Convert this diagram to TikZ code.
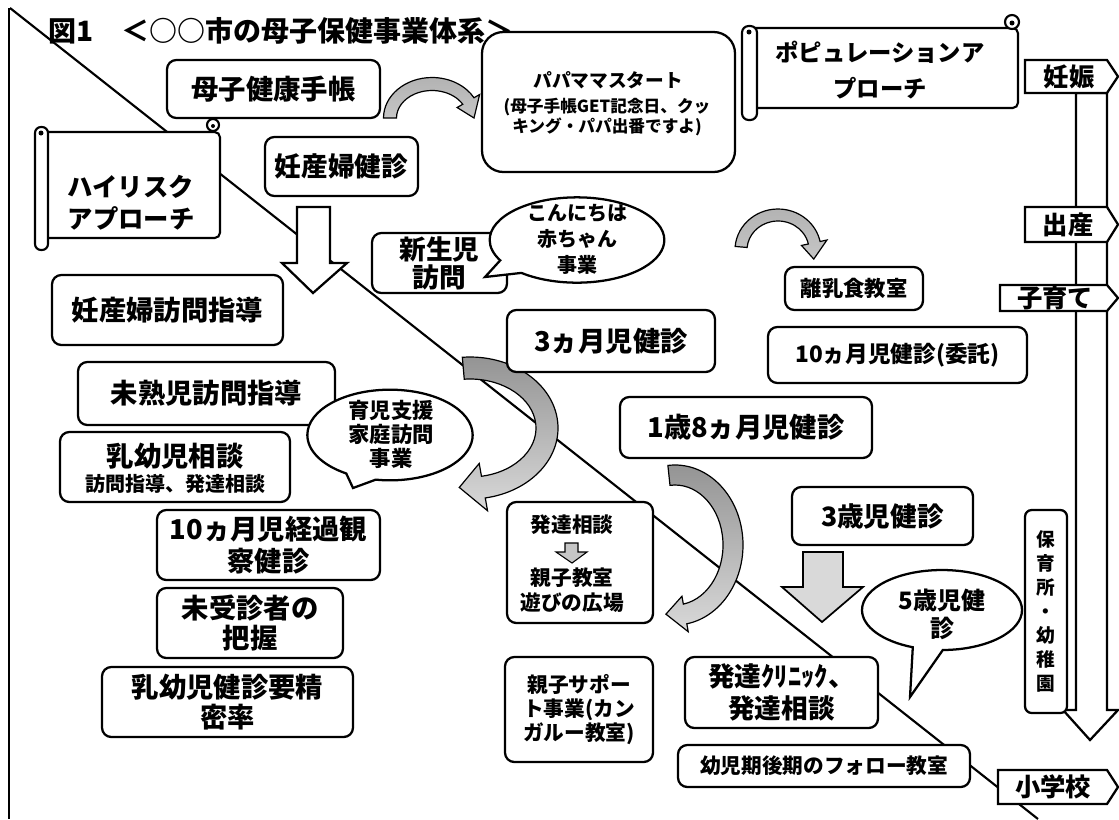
\documentclass[tikz,border=0pt]{standalone}
\usepackage{fontspec}
\setmainfont{Noto Sans CJK JP}
\usetikzlibrary{fit,shapes.callouts,calc}
\newcommand\myfs[2]{\fontsize{#1pt}{#2pt}\selectfont\bfseries}
\newcommand\bxt[4]{\node[bx, fit={#2}] (#1) {};\node[txt, font={#3}] (#1t) at (#1.center) {#4};}
\begin{document}
\begin{tikzpicture}[x=0.75pt,y=-0.75pt,
  bx/.style={draw, line width=1.7pt, rounded corners=7pt, fill=white, inner sep=0pt},
  ln/.style={line width=1.6pt},
  txt/.style={inner sep=0pt, align=center},
  callout/.style={ellipse callout, draw, line width=1.7pt, fill=white, inner sep=0pt, callout pointer arc=22},
  cur/.style={draw=black, line width=0.9pt, top color=gray!85, bottom color=gray!30},
  blk/.style={draw=black, line width=1.3pt, fill=gray!30},
  lab/.style={draw, line width=1.7pt, fill=white},
]
\useasboundingbox (0,0) rectangle (1119,819);
\fill[white] (0,0) rectangle (1119,819);

% border and diagonal
\coordinate (d1) at (10,8);
\coordinate (d2) at (1038,819);
\coordinate (b1) at (9,8);
\coordinate (b2) at (9,819);
\draw[line width=1pt] (b1) -- (b2);
\draw[ln] (d1) -- (d2);

% timeline arrow
\draw[lab] (1076,93) -- (1107,93) -- (1107,710) -- (1118,710) -- (1090,740) -- (1063,710) -- (1076,710) -- cycle;

% title
\node[txt, anchor=west, font={\myfs{21}{24}}] (title) at (48,31) {図1　＜○○市の母子保健事業体系＞};

% white down arrow
\draw[lab] (297,207) -- (330,207) -- (330,263) -- (347,263) -- (313,293) -- (282,263) -- (297,263) -- cycle;

% curved arrows
\coordinate (c1) at (470,428);
\path[cur] ($(c1)+(-95:88 and 71)$) arc[start angle=-95, end angle=80, x radius=88, y radius=71]
  -- ($(c1)+(80:101 and 84)$) -- ($(c1)+(98:77 and 60)$) -- ($(c1)+(80:53 and 36)$)
  -- ($(c1)+(80:66 and 49)$) arc[start angle=80, end angle=-95, x radius=66, y radius=49] -- cycle;
\coordinate (c2) at (675,545);
\path[cur] ($(c2)+(-96:68 and 80)$) arc[start angle=-96, end angle=80, x radius=68, y radius=80]
  -- ($(c2)+(80:76 and 88)$) -- ($(c2)+(99:58 and 70)$) -- ($(c2)+(80:40 and 52)$)
  -- ($(c2)+(80:48 and 60)$) arc[start angle=80, end angle=-96, x radius=48, y radius=60] -- cycle;
\coordinate (c3) at (432,118);
\path[cur, top color=gray!60, bottom color=gray!45] ($(c3)+(180:48.5 and 40.5)$) arc[start angle=180, end angle=330, x radius=48.5, y radius=40.5]
  -- ($(c3)+(330:55 and 47)$) -- ($(c3)+(360:42 and 34)$) -- ($(c3)+(330:29 and 21)$)
  -- ($(c3)+(330:35.5 and 27.5)$) arc[start angle=330, end angle=180, x radius=35.5, y radius=27.5] -- cycle;
\coordinate (c4) at (778,250);
\path[cur, top color=gray!60, bottom color=gray!45] ($(c4)+(185:43 and 41)$) arc[start angle=185, end angle=348, x radius=43, y radius=41]
  -- ($(c4)+(348:50 and 48)$) -- ($(c4)+(375:37 and 35)$) -- ($(c4)+(348:24 and 22)$)
  -- ($(c4)+(348:31 and 29)$) arc[start angle=348, end angle=185, x radius=31, y radius=29] -- cycle;

% grey block arrow under 3歳児健診
\draw[blk] (803,552) -- (843,552) -- (843,587) -- (863,587) -- (822,622) -- (782,587) -- (803,587) -- cycle;

% scrolls
\draw[ln, fill=white, rounded corners=4pt] (44,132) -- (220,132) -- (220,238) -- (44,238);
\draw[ln, fill=white, rounded corners=4.5pt] (35,127) rectangle (48,250);
\draw[ln, fill=white] (213,125) circle[radius=6];
\fill (213,126) circle[radius=2];
\fill (41,133) circle[radius=2.5];
\node[txt, align=left, font={\myfs{19}{24}}] (hr) at (131,203) {ハイリスク\\アプローチ};

\draw[ln, fill=white, rounded corners=4pt] (752,28) -- (1018,28) -- (1018,108) -- (752,108);
\draw[ln, fill=white, rounded corners=5pt] (742,26) rectangle (757,120);
\draw[ln, fill=white] (1012,22) circle[radius=7];
\fill (1012,23) circle[radius=2.5];
\fill (749,32) circle[radius=2.5];
\node[txt, font={\myfs{17.5}{27}}] (popu) at (880,70) {ポピュレーションア\\プローチ};

% boxes
\bxt{boshi}{(167,60)(380,118)}{\myfs{20.5}{24}}{母子健康手帳}
\node[bx, rounded corners=16pt, fit={(482,32)(735,172)}] (papa) {};
\node[txt, font={\myfs{14}{17}}] (papa1) at (608,80) {パパママスタート};
\node[txt, font={\myfs{12.5}{15}}] (papa2) at (607,117) {(母子手帳GET記念日、クッ\\キング・パパ出番ですよ)};
\bxt{ninken}{(265,137)(418,196)}{\myfs{20}{24}}{妊産婦健診}
\bxt{shinsei}{(372,233)(507,293)}{\myfs{20}{21}}{新生児\\訪問}
\node[callout, minimum width=131pt, minimum height=64pt, callout absolute pointer={(485,277)}] (konn) at (577,240) {};
\node[txt, font={\myfs{15}{19.5}}] (konnt) at (577,239) {こんにちは\\赤ちゃん\\事業};
\bxt{rinyu}{(785,267)(923,310)}{\myfs{16}{19}}{離乳食教室}
\bxt{ninpu}{(52,275)(283,345)}{\myfs{20.5}{24}}{妊産婦訪問指導}
\bxt{mijuku}{(78,362)(335,425)}{\myfs{20.5}{24}}{未熟児訪問指導}
\node[bx, fit={(60,432)(290,502)}] (nyuyo) {};
\node[txt, font={\myfs{20.5}{24}}] (nyuyo1) at (175,456) {乳幼児相談};
\node[txt, font={\myfs{15}{18}}] (nyuyo2) at (175,484) {訪問指導、発達相談};
\node[callout, minimum width=124pt, minimum height=68pt, callout absolute pointer={(353,488)}] (ikuji) at (390,435) {};
\node[txt, font={\myfs{16}{18}}] (ikujit) at (391,434) {育児支援\\家庭訪問\\事業};
\bxt{keika}{(157,510)(380,580)}{\myfs{20.5}{24}}{10ヵ月児経過観\\察健診}
\bxt{mijushin}{(157,588)(343,658)}{\myfs{20.5}{23}}{未受診者の\\把握}
\bxt{yosei}{(102,667)(353,737)}{\myfs{20.5}{23}}{乳幼児健診要精\\密率}
\bxt{san}{(507,310)(715,372)}{\myfs{20.5}{24}}{3ヵ月児健診}
\bxt{jukka}{(768,327)(1027,383)}{\myfs{17}{20}}{10ヵ月児健診(委託)}
\bxt{issai}{(620,397)(872,458)}{\myfs{20.5}{24}}{1歳8ヵ月児健診}
\node[bx, fit={(507,502)(653,623)}] (hattatsu) {};
\node[txt, font={\myfs{15.5}{18}}] (hat1) at (572,525) {発達相談};
\draw[line width=0.8pt, fill=gray!45] (565,543) -- (578,543) -- (578,552) -- (587,552) -- (572,563) -- (556,552) -- (565,552) -- cycle;
\node[txt, font={\myfs{15.5}{19}}] (hat2) at (572,590) {親子教室\\遊びの広場};
\bxt{sansai}{(792,487)(973,545)}{\myfs{20}{24}}{3歳児健診}
\node[callout, minimum width=120pt, minimum height=60pt, callout absolute pointer={(910,697)}] (gosai) at (942,610) {};
\node[txt, font={\myfs{18}{21}}] (gosait) at (942,614) {5歳児健\\診};
\bxt{oyako}{(505,657)(653,762)}{\myfs{15.5}{18}}{親子サポー\\ト事業(カン\\ガルー教室)}
\bxt{clinic}{(685,657)(878,728)}{\myfs{20}{24}}{発達ｸﾘﾆｯｸ、\\発達相談}
\bxt{follow}{(678,745)(970,787)}{\myfs{15.5}{18}}{幼児期後期のフォロー教室}
\node[bx, rounded corners=5pt, fit={(1025,510)(1067,713)}] (hoiku) {};
\node[txt, font={\myfs{14}{18}}] (hoikut) at (hoiku.center) {保\\育\\所\\・\\幼\\稚\\園};

% timeline labels
\draw[lab] (1025,60) -- (1107,60) -- (1118,76.5) -- (1107,93) -- (1025,93) -- cycle;
\node[txt, font={\myfs{19}{22}}] (ninshin) at (1069,77) {妊娠};
\draw[lab] (1025,207) -- (1107,207) -- (1118,224.5) -- (1107,242) -- (1025,242) -- cycle;
\node[txt, font={\myfs{19}{22}}] (shussan) at (1068,225) {出産};
\draw[lab] (1000,285) -- (1107,285) -- (1118,298) -- (1107,311) -- (1000,311) -- cycle;
\node[txt, font={\myfs{19}{22}}] (kosodate) at (1055,298) {子育て};
\draw[lab] (998,770) -- (1107,770) -- (1118,787) -- (1107,804) -- (998,804) -- cycle;
\node[txt, font={\myfs{19}{22}}] (shogakko) at (1053,787) {小学校};
\end{tikzpicture}
\end{document}
